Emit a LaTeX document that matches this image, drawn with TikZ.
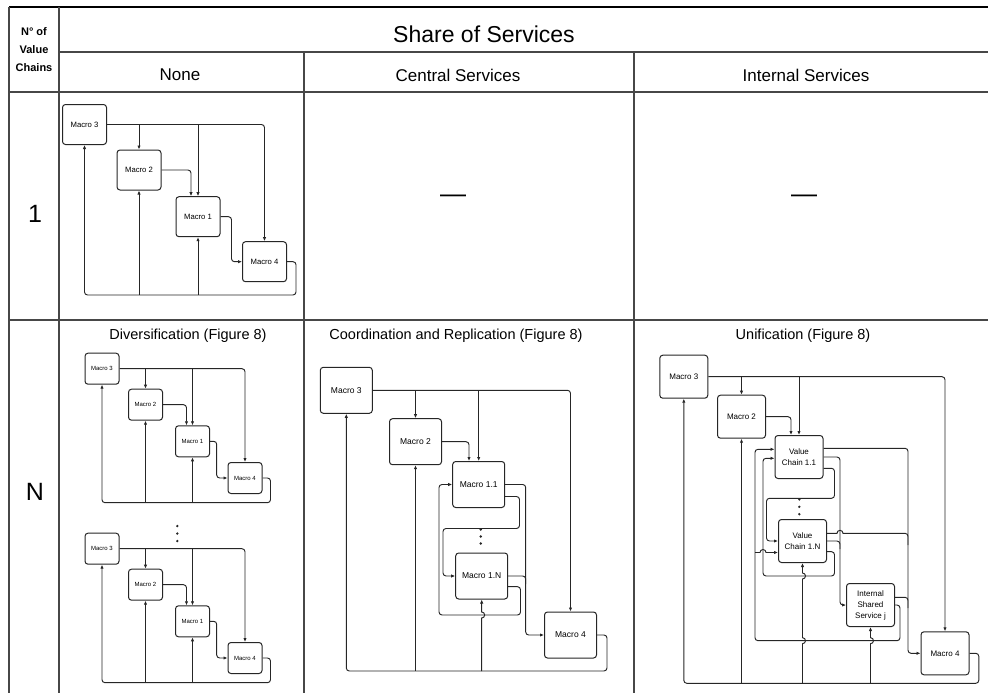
\documentclass[tikz,border=0pt]{standalone}
\usepackage{fontspec}
\setmainfont{Liberation Sans}
\usetikzlibrary{arrows.meta,calc}
\begin{document}
\begin{tikzpicture}[x=1pt,y=-1pt,
  grid/.style={line width=1.5pt,draw=black!72},
  box/.style={draw=black!85,line width=1pt,rounded corners=3pt,fill=white,inner sep=0pt,align=center},
  boxA/.style={box,minimum width=44pt,minimum height=40pt,font=\fontsize{7.7}{9}\selectfont},
  boxB/.style={box,minimum width=34pt,minimum height=31pt,font=\fontsize{6}{7}\selectfont},
  boxC/.style={box,minimum width=52pt,minimum height=46pt,font=\fontsize{8.5}{10}\selectfont},
  boxD/.style={box,minimum width=48pt,minimum height=43pt,font=\fontsize{8}{11}\selectfont},
  conn/.style={draw=black!85,line width=0.95pt,rounded corners=3pt},
  arr/.style={conn,-{Latex[length=4pt,width=3.4pt]}},
  dot/.style={fill=black!85},
  hdr/.style={font=\fontsize{17}{20}\selectfont},
  ttl/.style={font=\fontsize{14.5}{17}\selectfont},
]
\useasboundingbox (0,0) rectangle (988,693);
% ---------- table ----------
\draw[line width=1.9pt] (9,7) -- (988,7);
\draw[grid] (9,7) -- (9,693);
\draw[grid] (59,7) -- (59,693);
\draw[grid] (59,52) -- (988,52);
\draw[grid] (304,52) -- (304,693);
\draw[grid] (634,52) -- (634,693);
\draw[grid] (9,92) -- (988,92);
\draw[grid] (9,320) -- (988,320);
\node[font=\bfseries\fontsize{11}{18}\selectfont,align=center] (nvc) at (34,50) {N° of\\Value\\Chains};
\node[font=\fontsize{23}{26}\selectfont] (share) at (484,34) {Share of Services};
\node[hdr] (none) at (180,75) {None};
\node[hdr] (central) at (458,75) {Central Services};
\node[hdr] (internal) at (806,75) {Internal Services};
\node[font=\fontsize{25}{28}\selectfont] (one) at (35,214) {1};
\node[font=\fontsize{25}{28}\selectfont] (en) at (35,492) {N};
\node[font=\fontsize{26}{28}\selectfont] (dashA) at (453,199) {—};
\node[font=\fontsize{26}{28}\selectfont] (dashB) at (804,199) {—};
\node[ttl] (tdiv) at (188,336) {Diversification (Figure 8)};
\node[ttl] (tcoord) at (456,336) {Coordination and Replication (Figure 8)};
\node[ttl] (tuni) at (803,336) {Unification (Figure 8)};
% ---------- row 1, None ----------
\node[boxA] (ra3) at (84.5,124.5) {Macro 3};
\node[boxA] (ra2) at (139,170) {Macro 2};
\node[boxA] (ra1) at (198,216.7) {Macro 1};
\node[boxA] (ra4) at (264.5,261.7) {Macro 4};
\coordinate (rabot) at (0,295);
\draw[arr] (ra3.east) -| (ra4.north);
\draw[arr] (ra3.east -| ra2.north) -- (ra2.north);
\draw[arr] (ra3.east -| ra1.north) -- (ra1.north);
\draw[arr] (ra2.east) -| ([xshift=-7pt]ra1.north);
\draw[arr] (ra1.east) -- ++(11,0) |- (ra4.west);
\draw[arr] (ra4.east) -- ++(9,0) |- (rabot -| ra3.south) -- (ra3.south);
\draw[arr] (rabot -| ra2.south) -- (ra2.south);
\draw[arr] (rabot -| ra1.south) -- (ra1.south);
% ---------- Diversification ----------
\foreach \q/\dy in {a/0,b/180}{
\begin{scope}[shift={(0,\dy)}]
\node[boxB] (d\q3) at (102,368.7) {Macro 3};
\node[boxB] (d\q2) at (145.5,404.7) {Macro 2};
\node[boxB] (d\q1) at (192.5,441.3) {Macro 1};
\node[boxB] (d\q4) at (245,478) {Macro 4};
\coordinate (d\q bot) at (0,502.7);
\draw[arr] (d\q3.east) -| (d\q4.north);
\draw[arr] (d\q3.east -| d\q2.north) -- (d\q2.north);
\draw[arr] (d\q3.east -| d\q1.north) -- (d\q1.north);
\draw[arr] (d\q2.east) -| ([xshift=-6pt]d\q1.north);
\draw[arr] (d\q1.east) -- ++(6.7,0) |- (d\q4.west);
\draw[arr] (d\q4.east) -- ++(8,0) |- (d\q bot -| d\q3.south) -- (d\q3.south);
\draw[arr] (d\q bot -| d\q2.south) -- (d\q2.south);
\draw[arr] (d\q bot -| d\q1.south) -- (d\q1.south);
\end{scope}}
\foreach \yy in {526,533.5,541}{\fill[dot] (177.3,\yy) circle[radius=1.3pt];}
% ---------- Coordination and Replication ----------
\node[boxC] (c3) at (346.3,390.3) {Macro 3};
\node[boxC] (c2) at (415.5,441.7) {Macro 2};
\node[boxC] (c11) at (478.7,484.5) {Macro 1.1};
\node[boxC] (c1n) at (481.7,576) {Macro 1.N};
\node[boxC] (c4) at (570.5,635) {Macro 4};
\coordinate (cbot) at (0,671);
\coordinate (cv) at (525.7,0);
\draw[arr] (c3.east) -| (c4.north);
\draw[arr] (c3.east -| c2.north) -- (c2.north);
\draw[arr] (c3.east -| c11.north) -- (c11.north);
\draw[arr] (c2.east) -| ([xshift=-9.7pt]c11.north);
\draw[arr] (c11.east) -| (cv |- c4.west) -- (c4.west);
\draw[conn] (c1n.east) -- (cv |- c1n.east) -- ++(0,8);
\draw[arr] ([yshift=-12pt]c11.east) -- ++(14.3,0) |- (443,528.5) |- (c1n.west);
\draw[arr] ([yshift=-10.7pt]c1n.east) -- ++(12.3,0) |- (439,615) |- (c11.west);
\draw[arr] (c4.east) -- ++(10,0) |- (cbot -| c3.south) -- (c3.south);
\draw[arr] (cbot -| c2.south) -- (c2.south);
\draw[arr,sharp corners] (cbot -| c1n.south) -- (481.7,618) arc[start angle=90,end angle=-90,radius=3] -- (c1n.south);
\foreach \yy in {529.5,536.5,543.5}{\fill[dot] (480.7,\yy) circle[radius=1.3pt];}
% ---------- Unification ----------
\node[boxD] (u3) at (683.8,376.7) {Macro 3};
\node[boxD] (u2) at (741.5,416.7) {Macro 2};
\node[boxD] (u11) at (799,457) {Value\\Chain 1.1};
\node[boxD] (u1n) at (802.5,541) {Value\\Chain 1.N};
\node[boxD] (us) at (870.5,605) {Internal\\Shared\\Service j};
\node[boxD] (u4) at (945,653.3) {Macro 4};
\coordinate (ubot) at (0,683.3);
\coordinate (uv) at (908,0);
\coordinate (uw) at (840,0);
\coordinate (ujn) at (755,552.5);
\draw[arr] (u3.east) -| (u4.north);
\draw[arr] (u3.east -| u2.north) -- (u2.north);
\draw[arr] (u3.east -| u11.north) -- (u11.north);
\draw[arr] (u2.east) -| ([xshift=-8pt]u11.north);
\draw[arr] ([yshift=8.7pt]u11.east) -| (uv |- u4.west) -- (u4.west);
\draw[conn] ([yshift=7.7pt]u1n.east) [sharp corners] -- (837,533.3) arc[start angle=180,end angle=360,radius=3] [rounded corners=3pt] -- (908,533.3) -- (908,545);
\draw[conn] ([yshift=7.7pt]us.east) -- (908,597.3) -- (908,608);
\draw[arr] (u11.east) -- (uw |- u11.east) |- (us.west);
\draw[conn] (u1n.east) -- (uw |- u1n.east) -- ++(0,8);
\draw[arr] ([yshift=-11.3pt]u11.east) -- (834.5,468.3) |- (766.5,498.3) |- (u1n.west);
\draw[arr] ([yshift=-10.7pt]u1n.east) -- (834.5,551.7) |- (763,576) |- ([yshift=-1.3pt]u11.west);
\draw[arr] (us.east) -- (900,605) |- (755,640.7) |- ([yshift=7.7pt]u11.west);
\draw[arr,sharp corners] (ujn) -- (760,552.5) arc[start angle=180,end angle=360,radius=3] -- ([yshift=-11.5pt]u1n.west);
\draw[arr] (u4.east) -- ++(9.3,0) |- (ubot -| u3.south) -- (u3.south);
\draw[arr] (ubot -| u2.south) -- (u2.south);
\draw[arr,sharp corners] (ubot -| u1n.south) -- (802.5,643.7) arc[start angle=90,end angle=-90,radius=3] -- (802.5,579) arc[start angle=90,end angle=-90,radius=3] -- (u1n.south);
\draw[arr,sharp corners] (ubot -| us.south) -- (870.5,643.7) arc[start angle=90,end angle=-90,radius=3] -- (us.south);
\foreach \yy in {499.5,506.8,514.2}{\fill[dot] (799.3,\yy) circle[radius=1.3pt];}
\end{tikzpicture}
\end{document}
